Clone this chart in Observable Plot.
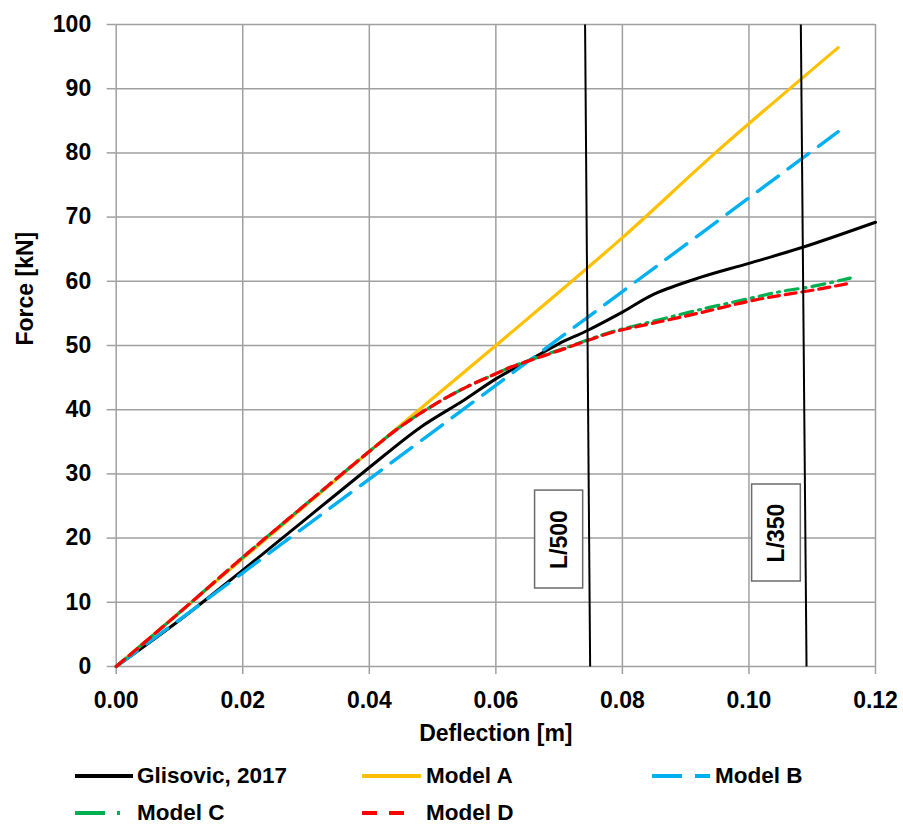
<!DOCTYPE html>
<html>
<head>
<meta charset="utf-8">
<script src="https://cdn.jsdelivr.net/npm/d3@7"></script>
<script src="https://cdn.jsdelivr.net/npm/@observablehq/plot@0.6"></script>
<style>
  html, body { margin: 0; padding: 0; background: #fff; overflow: hidden; }
  #wrap { position: relative; width: 903px; height: 825px; font-family: "Liberation Sans", Arial, sans-serif; font-weight: bold; }
  .leg { position: absolute; height: 22px; line-height: 22px; display: flex; align-items: center; font-size: 22.5px; color: #000; white-space: nowrap; }
  .leg svg { display: block; }
</style>
</head>
<body>
<div id="wrap"></div>
<script>
// ---- data ----
const xTicks = [0, 0.02, 0.04, 0.06, 0.08, 0.10, 0.12];
const yTicks = [0, 10, 20, 30, 40, 50, 60, 70, 80, 90, 100];

const glisovicX = [0, 0.01, 0.02, 0.03, 0.04, 0.048, 0.055, 0.06, 0.066, 0.07, 0.0744, 0.08, 0.085, 0.0923, 0.1, 0.1085, 0.12];
const glisovicY = [0, 7.2, 15, 23, 31, 37.2, 41.5, 44.8, 48.1, 50.3, 52.3, 55.2, 58, 60.6, 62.8, 65.3, 69.2];

const modelAX = [0, 0.02, 0.04, 0.06, 0.08, 0.0947, 0.1141];
const modelAY = [0, 16.8, 33.5, 50, 66.8, 80, 96.4];

const modelBX = [0, 0.02, 0.04, 0.06, 0.08, 0.1, 0.1141];
const modelBY = [0, 14.6, 29.2, 43.8, 58.4, 73, 83.3];

const modelCX = [0, 0.01, 0.02, 0.03, 0.04, 0.045, 0.0508, 0.0555, 0.06, 0.0623, 0.07, 0.0786, 0.085, 0.0923, 0.1, 0.105, 0.11, 0.116];
const modelCY = [0, 8.4, 17, 25.3, 33.5, 37.4, 41.1, 43.6, 45.6, 46.6, 49.3, 52.2, 53.8, 55.6, 57.3, 58.4, 59.2, 60.5];

const modelDX = [0, 0.01, 0.02, 0.03, 0.04, 0.045, 0.0508, 0.0555, 0.06, 0.0623, 0.07, 0.0786, 0.085, 0.0923, 0.1, 0.105, 0.11, 0.116];
const modelDY = [0, 8.4, 17, 25.3, 33.5, 37.4, 41.1, 43.6, 45.6, 46.6, 49.2, 52.1, 53.5, 55.1, 56.9, 57.8, 58.6, 59.7];

// deflection limit lines (x at top and bottom of the frame) and their label boxes
const limitLabels = ["L/500", "L/350"];
const limitXTop = [0.0741, 0.1082];
const limitXBottom = [0.0749, 0.1091];
const limitYTop = [100, 100];
const limitYBottom = [0, 0];
const boxX1 = [0.0662, 0.1005];
const boxX2 = [0.0738, 0.1082];
const boxY1 = [12.15, 13.24];
const boxY2 = [27.4, 28.35];

const seriesNames = ["Glisovic, 2017", "Model A", "Model B", "Model C", "Model D"];
const seriesColors = ["#000000", "#FFC000", "#00B0F0", "#00B050", "#FF0000"];

// ---- build tables ----
const zip = (xs, ys) => xs.map((x, i) => ({x, y: ys[i]}));
const glisovic = zip(glisovicX, glisovicY);
const modelA = zip(modelAX, modelAY);
const modelB = zip(modelBX, modelBY);
const modelC = zip(modelCX, modelCY);
const modelD = zip(modelDX, modelDY);
const limits = limitLabels.map((label, i) => ({
  label,
  xt: limitXTop[i], xb: limitXBottom[i], yt: limitYTop[i], yb: limitYBottom[i],
  bx1: boxX1[i], bx2: boxX2[i], by1: boxY1[i], by2: boxY2[i],
  cx: (boxX1[i] + boxX2[i]) / 2, cy: (boxY1[i] + boxY2[i]) / 2
}));

const FONT = '"Liberation Sans", Arial, sans-serif';
const gridStyle = {stroke: "#a0a0a0", strokeOpacity: 1, strokeWidth: 1.5};

const chart = Plot.plot({
  width: 903,
  height: 755,
  marginLeft: 115.7,
  marginRight: 28,
  marginTop: 24,
  marginBottom: 89,
  style: {fontFamily: FONT, fontSize: "23px", fontWeight: "bold", background: "#fff", overflow: "visible"},
  x: {domain: [0, 0.12]},
  y: {domain: [0, 100]},
  marks: [
    Plot.gridX(xTicks, gridStyle),
    Plot.gridY(yTicks, gridStyle),
    Plot.axisX(xTicks, {tickSize: 8, tickPadding: 17, stroke: "#a0a0a0", strokeWidth: 1.5, tickFormat: d3.format(".2f"), label: null, fontSize: 23, fontWeight: "bold"}),
    Plot.axisY(yTicks, {tickSize: 9, tickPadding: 16, stroke: "#a0a0a0", strokeWidth: 1.5, tickFormat: d3.format("d"), label: null, fontSize: 23, fontWeight: "bold"}),
    Plot.text(["Deflection [m]"], {frameAnchor: "bottom", dy: 74, fontSize: 23, fontWeight: "bold", fill: "#000"}),
    Plot.text(["Force [kN]"], {frameAnchor: "left", dx: -91, rotate: -90, fontSize: 23, fontWeight: "bold", fill: "#000"}),
    Plot.line(glisovic, {x: "x", y: "y", stroke: seriesColors[0], strokeWidth: 3, curve: "catmull-rom"}),
    Plot.line(modelA, {x: "x", y: "y", stroke: seriesColors[1], strokeWidth: 3.2, curve: "catmull-rom"}),
    Plot.line(modelB, {x: "x", y: "y", stroke: seriesColors[2], strokeWidth: 3.4, strokeDasharray: "26,12", strokeLinecap: "round"}),
    Plot.line(modelC, {x: "x", y: "y", stroke: seriesColors[3], strokeWidth: 3.2, strokeDasharray: "13,6,2,6", curve: "catmull-rom"}),
    Plot.line(modelD, {x: "x", y: "y", stroke: seriesColors[4], strokeWidth: 3.2, strokeDasharray: "11,6", curve: "catmull-rom"}),
    Plot.link(limits, {x1: "xt", y1: "yt", x2: "xb", y2: "yb", stroke: "#000", strokeWidth: 2}),
    Plot.rect(limits, {x1: "bx1", x2: "bx2", y1: "by1", y2: "by2", fill: "#fff", stroke: "#6b6b6b", strokeWidth: 1.5}),
    Plot.text(limits, {x: "cx", y: "cy", text: "label", rotate: -90, fontSize: 23, fontWeight: "bold", fill: "#000"})
  ]
});

const wrap = document.getElementById("wrap");
chart.style.position = "absolute";
chart.style.left = "0px";
chart.style.top = "0px";
wrap.appendChild(chart);

// ---- legend (HTML below the SVG) ----
const legendItems = [
  {name: seriesNames[0], color: seriesColors[0], left: 75, top: 765, w: 58, dash: null},
  {name: seriesNames[1], color: seriesColors[1], left: 362, top: 765, w: 59, dash: null},
  {name: seriesNames[2], color: seriesColors[2], left: 652, top: 765, w: 58, dash: "30,13"},
  {name: seriesNames[3], color: seriesColors[3], left: 75, top: 802, w: 47, dash: "30,12,3,40"},
  {name: seriesNames[4], color: seriesColors[4], left: 362, top: 802, w: 47, dash: "15,12"}
];
const textOffsets = [62, 64, 63, 62, 64];
legendItems.forEach((it, i) => {
  const d = document.createElement("div");
  d.className = "leg";
  d.style.left = it.left + "px";
  d.style.top = it.top + "px";
  const sw = d3.create("svg").attr("width", textOffsets[i]).attr("height", 22);
  sw.append("line")
    .attr("x1", 0).attr("x2", it.w).attr("y1", 11).attr("y2", 11)
    .attr("stroke", it.color).attr("stroke-width", 4)
    .attr("stroke-dasharray", it.dash);
  d.appendChild(sw.node());
  const t = document.createElement("span");
  t.textContent = it.name;
  d.appendChild(t);
  wrap.appendChild(d);
});
</script>
</body>
</html>
